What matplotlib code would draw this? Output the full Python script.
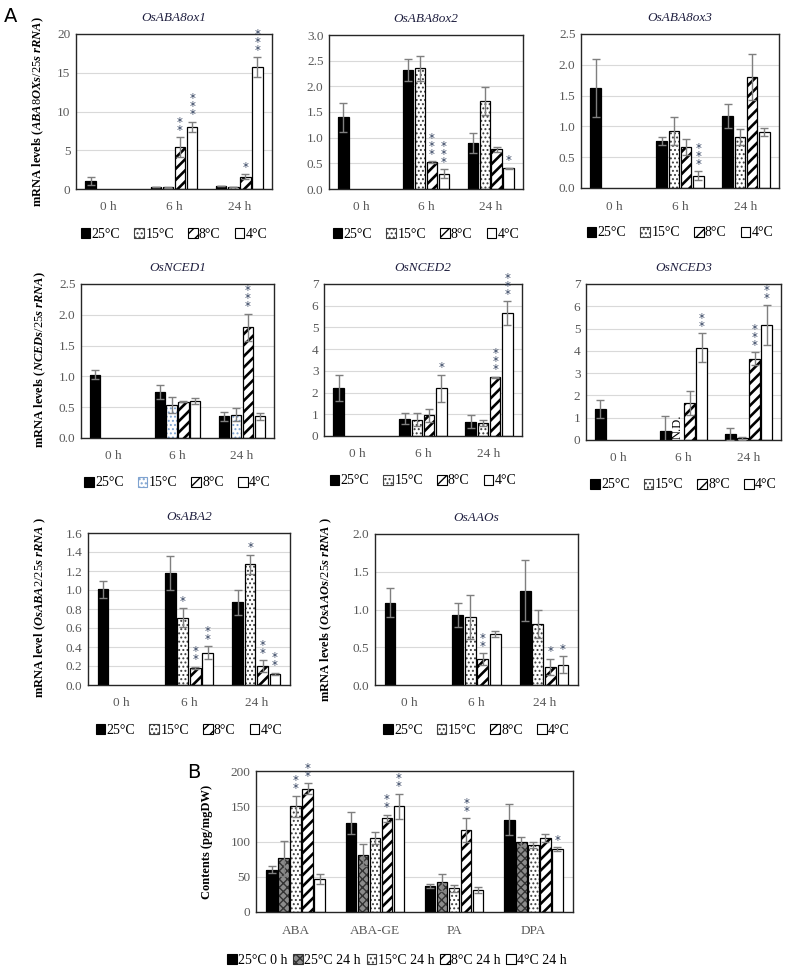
import numpy as np
import matplotlib
matplotlib.use("Agg")
import matplotlib.pyplot as plt
from matplotlib.patches import Patch

plt.rcParams["font.family"] = ["Liberation Serif", "DejaVu Serif"]
plt.rcParams["mathtext.fontset"] = "custom"
plt.rcParams["mathtext.rm"] = "Liberation Serif"
plt.rcParams["mathtext.it"] = "Liberation Serif:italic:bold"

nan = np.nan

# ---- data (rows = time point, columns = temperature) ----
TIMES = ["0 h", "6 h", "24 h"]
TEMPS = ["25°C", "15°C", "8°C", "4°C"]

ABA8OX1_MEAN = [[1.0, nan, nan, nan], [0.25, 0.2, 5.4, 8.0], [0.4, 0.25, 1.6, 15.7]]
ABA8OX1_ERR = [[0.5, 0, 0, 0], [0.05, 0.05, 1.3, 0.7], [0.05, 0.05, 0.3, 1.3]]
ABA8OX1_STARS = [["", "", "", ""], ["", "", "**", "***"], ["", "", "*", "***"]]

ABA8OX2_MEAN = [[1.4, nan, nan, nan], [2.32, 2.35, 0.52, 0.3], [0.9, 1.72, 0.77, 0.4]]
ABA8OX2_ERR = [[0.28, 0, 0, 0], [0.22, 0.25, 0.02, 0.08], [0.2, 0.27, 0.05, 0.01]]
ABA8OX2_STARS = [["", "", "", ""], ["", "", "***", "***"], ["", "", "", "*"]]

ABA8OX3_MEAN = [[1.63, nan, nan, nan], [0.76, 0.92, 0.67, 0.2], [1.17, 0.83, 1.8, 0.91]]
ABA8OX3_ERR = [[0.47, 0, 0, 0], [0.07, 0.23, 0.13, 0.07], [0.2, 0.13, 0.37, 0.07]]
ABA8OX3_STARS = [["", "", "", ""], ["", "", "", "***"], ["", "", "", ""]]

NCED1_MEAN = [[1.03, nan, nan, nan], [0.75, 0.53, 0.59, 0.6], [0.35, 0.38, 1.8, 0.35]]
NCED1_ERR = [[0.07, 0, 0, 0], [0.11, 0.13, 0.01, 0.05], [0.07, 0.11, 0.22, 0.05]]
NCED1_STARS = [["", "", "", ""], ["", "", "", ""], ["", "", "***", ""]]

NCED2_MEAN = [[2.2, nan, nan, nan], [0.8, 0.75, 0.95, 2.2], [0.65, 0.6, 2.7, 5.65]]
NCED2_ERR = [[0.6, 0, 0, 0], [0.25, 0.3, 0.3, 0.62], [0.3, 0.15, 0.02, 0.55]]
NCED2_STARS = [["", "", "", ""], ["", "", "", "*"], ["", "", "***", "***"]]

NCED3_MEAN = [[1.4, nan, nan, nan], [0.42, nan, 1.65, 4.15], [0.27, 0.07, 3.65, 5.15]]
NCED3_ERR = [[0.4, 0, 0, 0], [0.65, 0, 0.55, 0.65], [0.27, 0.05, 0.3, 0.9]]
NCED3_STARS = [["", "", "", ""], ["", "", "", "**"], ["", "", "***", "**"]]

ABA2_MEAN = [[1.01, nan, nan, nan], [1.18, 0.71, 0.18, 0.34], [0.87, 1.27, 0.2, 0.12]]
ABA2_ERR = [[0.09, 0, 0, 0], [0.18, 0.1, 0.01, 0.07], [0.13, 0.1, 0.06, 0.01]]
ABA2_STARS = [["", "", "", ""], ["", "*", "**", "**"], ["", "*", "**", "**"]]

AAOS_MEAN = [[1.09, nan, nan, nan], [0.93, 0.9, 0.34, 0.68], [1.25, 0.81, 0.24, 0.27]]
AAOS_ERR = [[0.19, 0, 0, 0], [0.16, 0.29, 0.08, 0.04], [0.4, 0.19, 0.11, 0.11]]
AAOS_STARS = [["", "", "", ""], ["", "", "**", ""], ["", "", "*", "*"]]

# panel B (rows = compound, columns = treatment)
COMPOUNDS = ["ABA", "ABA-GE", "PA", "DPA"]
TREATMENTS = ["25°C 0 h", "25°C 24 h", "15°C 24 h", "8°C 24 h", "4°C 24 h"]
CONTENT_MEAN = [[60, 76, 150, 175, 47], [126, 81, 105, 133, 150],
                [37, 42, 34, 116, 31], [131, 100, 95, 105, 89]]
CONTENT_ERR = [[5, 25, 15, 8, 7], [16, 16, 8, 5, 18],
               [3, 12, 5, 17, 4], [22, 7, 4, 6, 3]]
CONTENT_STARS = [["", "", "**", "**", ""], ["", "", "", "**", "**"],
                 ["", "", "", "**", ""], ["", "", "", "", "*"]]

# ---- styling ----
W, H = 787, 967
TICK_COL = "#595959"
ERR_COL = "#7f7f7f"
STAR_COL = "#2f3e5c"

DOTS = "...."
STRIPES = "///"
HATCH_LW = {DOTS: 0.9, STRIPES: 1.9, "xxxx": 1.0}
STYLE_A = [("black", None, "black"), ("white", DOTS, "#404040"),
           ("white", STRIPES, "black"), ("white", None, "black")]
STYLE_NCED1 = [("black", None, "black"), ("white", DOTS, "#7fa3d0"),
               ("white", STRIPES, "black"), ("white", None, "black")]
STYLE_B = [("black", None, "black"), ("#8c8c8c", "xxxx", "#333333"),
           ("white", DOTS, "#404040"), ("white", STRIPES, "black"),
           ("white", None, "black")]


def px_axes(fig, x0, x1, y0, y1):
    return fig.add_axes([x0 / W, 1 - y1 / H, (x1 - x0) / W, (y1 - y0) / H])


def draw_bars(ax, means, errs, stars, styles, slot, width, ymax, ystep, groups):
    means = np.array(means, dtype=float)
    errs = np.array(errs, dtype=float)
    ng, ns = means.shape
    ax.set_axisbelow(True)
    ax.yaxis.grid(True, color="#d9d9d9", linewidth=0.8)
    for si in range(ns):
        face, hatch, hcol = styles[si]
        x = np.arange(ng) + (si - (ns - 1) / 2) * slot
        h = means[:, si]
        ok = ~np.isnan(h)
        if hatch:
            with plt.rc_context({"hatch.linewidth": HATCH_LW[hatch]}):
                ax.bar(x[ok], h[ok], width, color=face, edgecolor=hcol, hatch=hatch,
                       linewidth=0, zorder=2)
        else:
            ax.bar(x[ok], h[ok], width, color=face, linewidth=0, zorder=2)
        ax.bar(x[ok], h[ok], width, fill=False, edgecolor="black", linewidth=0.9, zorder=3)
        ax.errorbar(x[ok], h[ok], yerr=errs[ok, si], fmt="none", ecolor=ERR_COL,
                    elinewidth=1.0, capsize=3, capthick=1.0, zorder=4)
        for gi in range(ng):
            s = stars[gi][si]
            if s and ok[gi]:
                ax.text(x[gi], h[gi] + errs[gi, si] + ymax * 0.003, "\n".join(s),
                        ha="center", va="bottom", fontsize=8.5, color=STAR_COL,
                        linespacing=0.5, family="DejaVu Sans", zorder=5)
    ax.set_xlim(-0.5, ng - 0.5)
    ax.set_ylim(0, ymax)
    ax.set_yticks(np.arange(0, ymax + ystep / 2, ystep))
    ax.set_xticks(np.arange(ng))
    ax.set_xticklabels(groups)
    ax.tick_params(length=0, labelsize=9.5, labelcolor=TICK_COL, pad=4)
    ax.tick_params(axis="x", pad=9)
    for sp in ax.spines.values():
        sp.set_color("#262626")
        sp.set_linewidth(1.0)


def legend_handles(styles, labels):
    hs = []
    for (face, hatch, hcol), lab in zip(styles, labels):
        lw = HATCH_LW.get(hatch, 1.0)
        with plt.rc_context({"hatch.linewidth": lw}):
            hs.append(Patch(facecolor=face, edgecolor="black" if not hatch else hcol,
                            hatch=hatch, linewidth=0.8, label=lab))
    return hs


fig = plt.figure(figsize=(W / 100, H / 100), dpi=100)

panels = [
    ("OsABA8ox1", ABA8OX1_MEAN, ABA8OX1_ERR, ABA8OX1_STARS, 20, 5, "%d", (76, 272, 34, 189), STYLE_A),
    ("OsABA8ox2", ABA8OX2_MEAN, ABA8OX2_ERR, ABA8OX2_STARS, 3.0, 0.5, "%.1f", (329, 523, 35, 189), STYLE_A),
    ("OsABA8ox3", ABA8OX3_MEAN, ABA8OX3_ERR, ABA8OX3_STARS, 2.5, 0.5, "%.1f", (581, 779, 34, 188), STYLE_A),
    ("OsNCED1", NCED1_MEAN, NCED1_ERR, NCED1_STARS, 2.5, 0.5, "%.1f", (81, 274, 284, 438), STYLE_NCED1),
    ("OsNCED2", NCED2_MEAN, NCED2_ERR, NCED2_STARS, 7, 1, "%d", (324, 522, 284, 436), STYLE_A),
    ("OsNCED3", NCED3_MEAN, NCED3_ERR, NCED3_STARS, 7, 1, "%d", (586, 781, 284, 440), STYLE_A),
    ("OsABA2", ABA2_MEAN, ABA2_ERR, ABA2_STARS, 1.6, 0.2, "%.1f", (88, 290, 533, 685), STYLE_A),
    ("OsAAOs", AAOS_MEAN, AAOS_ERR, AAOS_STARS, 2.0, 0.5, "%.1f", (375, 578, 534, 685), STYLE_A),
]

for title, m, e, s, ymax, ystep, fmt, (x0, x1, y0, y1), st in panels:
    ax = px_axes(fig, x0, x1, y0, y1)
    draw_bars(ax, m, e, s, st, 0.185, 0.16, ymax, ystep, TIMES)
    ax.yaxis.set_major_formatter(matplotlib.ticker.FormatStrFormatter(fmt))
    fig.text((x0 + x1) / 2 / W, 1 - (y0 - 16) / H, title, ha="center", va="center",
             style="italic", fontsize=9.5, color="#1f1f3f")
    fig.legend(handles=legend_handles(st, TEMPS), loc="center",
               bbox_to_anchor=((x0 + x1) / 2 / W, 1 - (y1 + 45) / H), ncol=4,
               frameon=False, fontsize=10, handlelength=0.7, handleheight=0.7,
               handletextpad=0.1, columnspacing=1.0)
    if title == "OsNCED3":
        ax.text(1 - 0.5 * 0.185 + 0.01, 0.05, "N.D.", rotation=90, ha="center",
                va="bottom", fontsize=9, zorder=5)

# y-axis labels of panel A
fig.text(38 / W, 1 - 112 / H, r"mRNA levels ($\mathit{ABA8OXs/25s\ rRNA}$)",
         rotation=90, ha="center", va="center", fontsize=9, fontweight="bold")
fig.text(40 / W, 1 - 360 / H, r"mRNA levels ($\mathit{NCEDs/25s\ rRNA}$)",
         rotation=90, ha="center", va="center", fontsize=9, fontweight="bold")
fig.text(40 / W, 1 - 608 / H, r"mRNA level ($\mathit{OsABA2/25s\ rRNA}$ )",
         rotation=90, ha="center", va="center", fontsize=9, fontweight="bold")
fig.text(326 / W, 1 - 610 / H, r"mRNA levels ($\mathit{OsAAOs/25s\ rRNA}$ )",
         rotation=90, ha="center", va="center", fontsize=9, fontweight="bold")

# ---- panel B ----
axb = px_axes(fig, 256, 573, 771, 912)
draw_bars(axb, CONTENT_MEAN, CONTENT_ERR, CONTENT_STARS, STYLE_B, 0.152, 0.133,
          200, 50, COMPOUNDS)
fig.text(207 / W, 1 - 842 / H, "Contents (pg/mgDW)", rotation=90, ha="center",
         va="center", fontsize=9, fontweight="bold")
fig.legend(handles=legend_handles(STYLE_B, TREATMENTS), loc="center",
           bbox_to_anchor=(397 / W, 1 - 960 / H), ncol=5, frameon=False,
           fontsize=10, handlelength=0.7, handleheight=0.7, handletextpad=0.1,
           columnspacing=0.4)

fig.text(4 / W, 1 - 16 / H, "A", fontsize=14, family="DejaVu Sans", va="center")
fig.text(187 / W, 1 - 773 / H, "B", fontsize=14, family="DejaVu Sans", va="center")

fig.savefig("out.png", dpi=100)
